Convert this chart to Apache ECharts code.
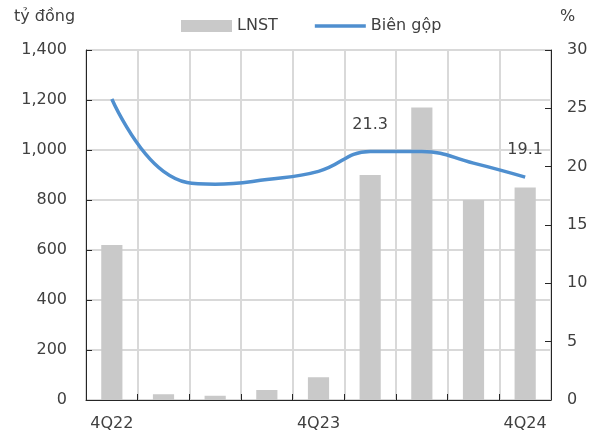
<!DOCTYPE html>
<html>
<head>
<meta charset="utf-8">
<script src="https://cdn.jsdelivr.net/npm/echarts@6/dist/echarts.min.js"></script>
<style>
  html, body { margin: 0; padding: 0; background: #fff; }
  #chart { width: 597px; height: 435px; }
</style>
</head>
<body>
<div id="chart"></div>
<script>
// Quarterly net profit (tỷ đồng) and gross margin (%)
const quarters = ['4Q22', '1Q23', '2Q23', '3Q23', '4Q23', '1Q24', '2Q24', '3Q24', '4Q24'];
const netProfit = [620, 23, 17, 40, 91, 900, 1170, 800, 850];
const grossMargin = [25.8, 19.6, 18.5, 18.9, 19.6, 21.3, 21.3, 20.3, 19.1];
const labelledQuarters = ['1Q24', '4Q24'];

const textColor = '#404040';
const font = 'DejaVu Sans';
const lineColor = '#4f8fcf';

const chart = echarts.init(document.getElementById('chart'), null, { renderer: 'canvas' });

chart.setOption({
  animation: false,
  textStyle: { fontFamily: font, color: textColor },
  grid: { left: 86, right: 46, top: 50, bottom: 35, containLabel: false },
  legend: {
    left: 176,
    top: 13,
    itemWidth: 51,
    itemHeight: 12,
    itemGap: 37,
    symbolKeepAspect: true,
    textStyle: { fontFamily: font, fontSize: 16, color: textColor },
    data: [
      { name: 'LNST', icon: 'rect' },
      {
        name: 'Biên gộp',
        icon: 'path://M0,0 H51 V3.5 H0 Z',
        itemStyle: { color: lineColor }
      }
    ]
  },
  graphic: [
    { type: 'text', left: 14, top: 9, style: { text: 'tỷ đồng', font: '16px "DejaVu Sans"', fill: textColor } },
    { type: 'text', left: 560, top: 9, style: { text: '%', font: '16px "DejaVu Sans"', fill: textColor } }
  ],
  xAxis: {
    type: 'category',
    data: quarters,
    boundaryGap: true,
    axisLine: { lineStyle: { color: '#262626', width: 1 } },
    axisTick: { show: true, inside: true, length: 6, interval: 0, lineStyle: { color: '#262626' } },
    axisLabel: { interval: 3, margin: 16, fontSize: 16, color: textColor, fontFamily: font },
    splitLine: { show: true, interval: 0, lineStyle: { color: '#d9d9d9', width: 2 } }
  },
  yAxis: [
    {
      type: 'value',
      min: 0, max: 1400, interval: 200,
      axisLine: { show: true, lineStyle: { color: '#262626' } },
      axisTick: { show: true, inside: true, length: 6, lineStyle: { color: '#262626' } },
      axisLabel: {
        margin: 19, fontSize: 16, color: textColor, fontFamily: font,
        formatter: v => v.toLocaleString('en-US')
      },
      splitLine: { show: true, lineStyle: { color: '#d9d9d9', width: 2 } }
    },
    {
      type: 'value',
      position: 'right',
      min: 0, max: 30, interval: 5,
      axisLine: { show: true, lineStyle: { color: '#262626' } },
      axisTick: { show: true, inside: true, length: 6, lineStyle: { color: '#262626' } },
      axisLabel: { margin: 16, fontSize: 16, color: textColor, fontFamily: font },
      splitLine: { show: false }
    }
  ],
  series: [
    {
      name: 'LNST',
      type: 'bar',
      data: netProfit,
      barWidth: '41%',
      itemStyle: { color: '#c9c9c9' },
      z: 2
    },
    {
      name: 'Biên gộp',
      type: 'line',
      yAxisIndex: 1,
      smooth: 0.45,
      symbol: 'none',
      lineStyle: { color: lineColor, width: 3.5 },
      itemStyle: { color: lineColor },
      data: grossMargin.map((v, i) => {
        const labelled = labelledQuarters.includes(quarters[i]);
        return labelled ? {
          value: v,
          symbol: 'circle',
          symbolSize: 0.01,
          label: {
            show: true,
            position: 'top',
            distance: 19,
            fontSize: 16,
            color: textColor,
            fontFamily: font,
            formatter: p => p.value.toFixed(1)
          }
        } : { value: v };
      }),
      z: 3
    }
  ]
});
</script>
</body>
</html>
